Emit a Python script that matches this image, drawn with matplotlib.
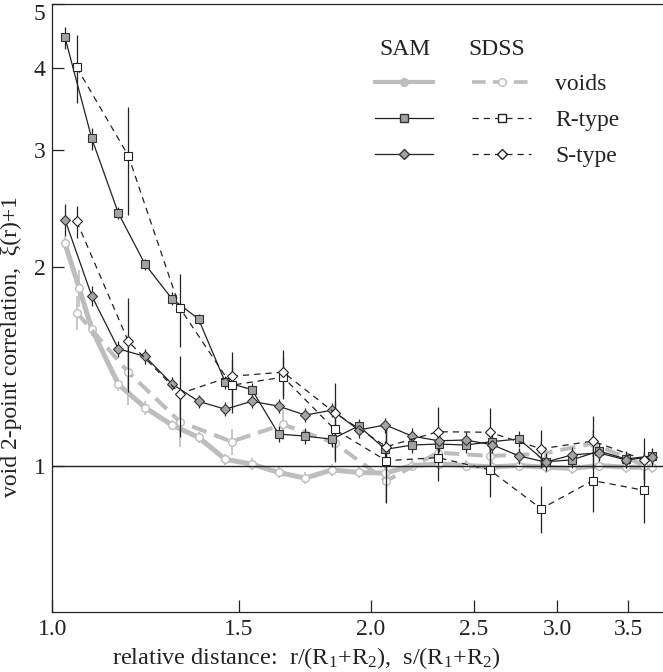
import numpy as np
import matplotlib.pyplot as plt
from matplotlib.lines import Line2D

plt.rcParams['font.family'] = ['Liberation Serif', 'DejaVu Serif']
plt.rcParams['mathtext.fontset'] = 'custom'
plt.rcParams['mathtext.rm'] = 'Liberation Serif'
plt.rcParams['mathtext.it'] = 'Liberation Serif:italic'

# bin centres (log spaced)
sam_x = [1.028, 1.0895, 1.1546, 1.2236, 1.2968, 1.3744, 1.4566, 1.5437, 1.636,
         1.7338, 1.8375, 1.9474, 2.0638, 2.1873, 2.3181, 2.4567, 2.6036, 2.7593,
         2.9243, 3.0992, 3.2845, 3.481, 3.689]
sam_voids_x = [1.028, 1.0598, 1.0895, 1.1546, 1.2236, 1.2968, 1.3744, 1.4566,
               1.5437, 1.636, 1.7338, 1.8375, 1.9474, 2.0638, 2.1873, 2.3181,
               2.4567, 2.6036, 2.7593, 2.9243, 3.0992, 3.2845, 3.481, 3.689]
sdss_x = [1.0545, 1.1798, 1.3199, 1.4767, 1.6522, 1.8484, 2.068, 2.3137,
          2.5886, 2.896, 3.24, 3.625]

# SAM mock catalogue
sam_voids = [2.17, 1.86, 1.61, 1.327, 1.224, 1.152, 1.103, 1.022, 1.005, 0.976,
             0.957, 0.985, 0.976, 0.974, 1.0, 1.005, 1.0, 0.995, 1.0, 0.994,
             0.99, 1.0, 0.994, 0.994]
sam_voids_err = [0.05, 0.12, 0.04, 0.03, 0.03, 0.02, 0.02, 0.02, 0.02, 0.02,
                 0.02, 0.02, 0.02, 0.02, 0.02, 0.02, 0.02, 0.02, 0.02, 0.02,
                 0.02, 0.02, 0.02, 0.02]
sam_r = [4.45, 3.13, 2.41, 2.017, 1.79, 1.667, 1.338, 1.303, 1.116, 1.108, 1.096,
         1.148, 1.058, 1.074, 1.078, 1.074, 1.087, 1.097, 1.013, 1.02, 1.052,
         1.023, 1.034]
sam_r_err = [0.17, 0.12, 0.05, 0.04, 0.04, 0.03, 0.03, 0.03, 0.03, 0.03, 0.03,
             0.03, 0.03, 0.03, 0.03, 0.03, 0.03, 0.03, 0.03, 0.03, 0.03, 0.03,
             0.03]
sam_s = [2.357, 1.807, 1.502, 1.463, 1.33, 1.251, 1.217, 1.251, 1.23, 1.192,
         1.213, 1.132, 1.152, 1.108, 1.09, 1.093, 1.075, 1.034, 1.012, 1.038,
         1.045, 1.02, 1.03]
sam_s_err = [0.13, 0.06, 0.04, 0.04, 0.03, 0.03, 0.03, 0.03, 0.03, 0.03, 0.03,
             0.03, 0.03, 0.03, 0.03, 0.03, 0.03, 0.03, 0.03, 0.03, 0.03, 0.03,
             0.03]

# SDSS
sdss_voids = [1.705, 1.385, 1.165, 1.087, 1.154, 1.081, 0.948, 1.046, 1.034,
              1.041, 1.08, 1.0]
sdss_voids_err = [0.1, 0.15, 0.1, 0.05, 0.06, 0.06, 0.07, 0.05, 0.05, 0.05,
                  0.05, 0.05]
sdss_r = [4.01, 2.946, 1.732, 1.323, 1.361, 1.134, 1.017, 1.028, 0.985, 0.86,
          0.949, 0.917]
sdss_r_err = [0.47, 0.55, 0.22, 0.12, 0.1, 0.12, 0.14, 0.08, 0.09, 0.07, 0.1,
              0.1]
sdss_s = [2.343, 1.542, 1.285, 1.365, 1.385, 1.2017, 1.068, 1.125, 1.123, 1.06,
          1.089, 1.02]
sdss_s_err = [0.13, 0.25, 0.18, 0.12, 0.11, 0.13, 0.1, 0.1, 0.1, 0.07, 0.1,
              0.08]

x_ticks = [1.0, 1.5, 2.0, 2.5, 3.0, 3.5]
y_ticks = [1, 2, 3, 4, 5]

light = '#bdbdbd'
fill = '#a3a3a3'
edge = '#333333'
ink = '#222222'

fig = plt.figure(figsize=(6.63, 6.72), dpi=100)
ax = fig.add_axes([52.3 / 663, 60 / 672, 610.7 / 663, 608 / 672])

# voids (grey)
ax.errorbar(sam_voids_x, sam_voids, yerr=sam_voids_err, color=light, lw=3.6,
            marker='o', ms=5.5, mfc='white', mec=light, mew=1.0,
            ecolor=light, elinewidth=1.2, capsize=0, zorder=2)
ax.errorbar(sdss_x, sdss_voids, yerr=sdss_voids_err, color=light, lw=2.9,
            dashes=(3.8, 2.0), marker='o', ms=5.5, mfc='white', mec=light,
            mew=1.0, ecolor=light, elinewidth=1.2, capsize=0, zorder=2)

ax.axhline(1.0, color=ink, lw=1.0, zorder=3)

# R-type
ax.errorbar(sam_x, sam_r, yerr=sam_r_err, color=ink, lw=0.9,
            marker='s', ms=5.3, mfc=fill, mec=edge, mew=0.8,
            ecolor=ink, elinewidth=0.9, capsize=0, zorder=4)
ax.errorbar(sdss_x, sdss_r, yerr=sdss_r_err, color=ink, lw=0.9,
            dashes=(5, 4), marker='s', ms=5.3, mfc='white', mec=ink,
            mew=0.8, ecolor=ink, elinewidth=0.9, capsize=0, zorder=4)

# S-type
ax.errorbar(sam_x, sam_s, yerr=sam_s_err, color=ink, lw=0.9,
            marker='D', ms=5.2, mfc=fill, mec=edge, mew=0.8,
            ecolor=ink, elinewidth=0.9, capsize=0, zorder=4)
ax.errorbar(sdss_x, sdss_s, yerr=sdss_s_err, color=ink, lw=0.9,
            dashes=(5, 4), marker='D', ms=5.2, mfc='white', mec=ink,
            mew=0.8, ecolor=ink, elinewidth=0.9, capsize=0, zorder=4)

ax.set_xscale('log')
ax.set_yscale('log')
ax.set_xlim(1.0, 3.775)
ax.set_ylim(0.6, 5.0)

ax.xaxis.set_minor_locator(plt.NullLocator())
ax.yaxis.set_minor_locator(plt.NullLocator())
ax.set_xticks(x_ticks)
ax.set_xticklabels(['%.1f' % t for t in x_ticks])
ax.set_yticks(y_ticks)
ax.set_yticklabels([str(t) for t in y_ticks])
ax.get_yticklabels()[-1].set_va('top')

ax.tick_params(direction='in', length=8.5, width=0.9, labelsize=17,
               colors=ink, top=False, right=False)
ax.tick_params(axis='x', pad=5)
ax.tick_params(axis='y', pad=5)
ax.spines['right'].set_visible(False)
for s in ['left', 'bottom', 'top']:
    ax.spines[s].set_linewidth(0.9)
    ax.spines[s].set_color(ink)

ax.set_xlabel(r'relative distance:  r/(R$_1$+R$_2$),  s/(R$_1$+R$_2$)',
              fontsize=17.5, color=ink)
ax.xaxis.set_label_coords(0.415, -0.055)
ax.set_ylabel('void 2-point correlation,  \u03be(r)+1', fontsize=17,
              color=ink)
ax.yaxis.set_label_coords(-0.05, 0.436)

# legend
handles = [
    Line2D([], [], color=light, lw=3.0, marker='o', ms=5.5, mfc=light, mec=light),
    Line2D([], [], color=ink, lw=0.9, marker='s', ms=5.3, mfc=fill, mec=edge),
    Line2D([], [], color=ink, lw=0.9, marker='D', ms=5.2, mfc=fill, mec=edge),
    Line2D([], [], color=light, lw=2.6, dashes=(3.8, 2.0), marker='o', ms=5.5,
           mfc='white', mec=light),
    Line2D([], [], color=ink, lw=0.9, dashes=(5, 4), marker='s', ms=5.3,
           mfc='white', mec=ink),
    Line2D([], [], color=ink, lw=0.9, dashes=(5, 4), marker='D', ms=5.2,
           mfc='white', mec=ink),
]
labels = ['', '', '', 'voids', 'R-type', 'S-type']
ax.legend(handles, labels, ncol=2, loc='upper left', bbox_to_anchor=(0.528, 0.885),
          frameon=False, fontsize=17, handlelength=2.46, handletextpad=1.05,
          columnspacing=0.63, labelspacing=0.6, borderpad=0, borderaxespad=0,
          labelcolor=ink)
ax.text(0.5775, 0.925, 'SAM', transform=ax.transAxes, ha='center', va='center',
        fontsize=17, color=ink)
ax.text(0.728, 0.925, 'SDSS', transform=ax.transAxes, ha='center', va='center',
        fontsize=17, color=ink)

fig.savefig('out.png', dpi=100)
